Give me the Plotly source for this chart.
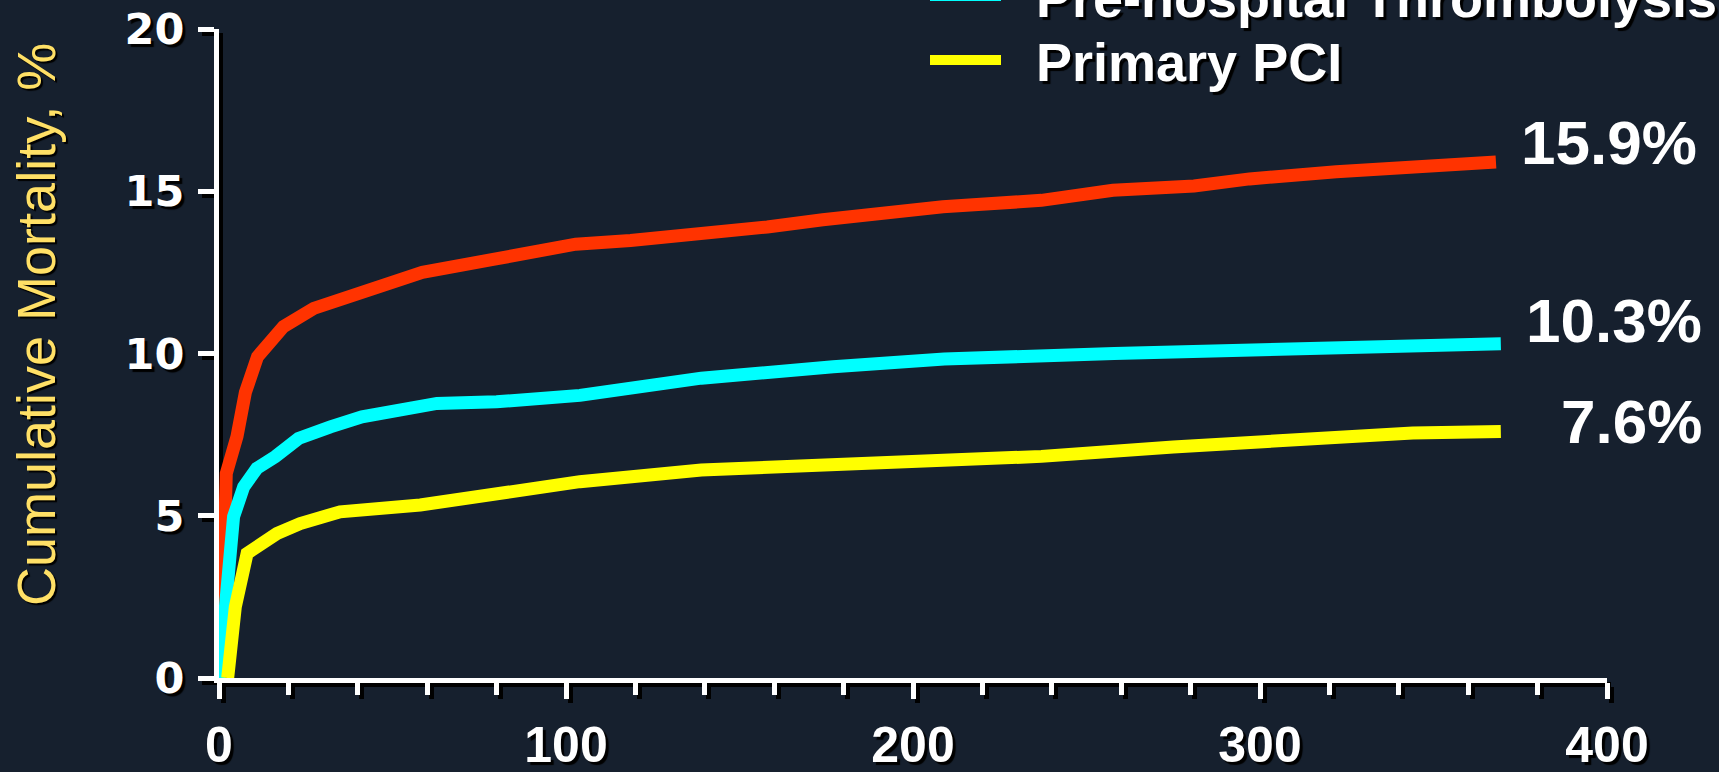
import plotly.graph_objects as go

# Cumulative mortality (%) by days after the index event
red_days = [0.5, 2.1, 5.2, 7.6, 11.1, 18.6, 27.3, 37.8, 48.2, 58.6, 79, 102.8, 118.6, 139, 158, 174,
            208.6, 237, 257.6, 281, 297, 322, 348, 357, 368]
red_mort = [0, 6.3, 7.45, 8.8, 9.9, 10.83, 11.39, 11.75, 12.1, 12.5, 12.9, 13.37, 13.48, 13.65, 13.9, 14.12,
            14.52, 14.72, 15.03, 15.16, 15.38, 15.6, 15.81, 15.81, 15.9]

cyan_days = [0, 4.2, 7.1, 10.9, 16.2, 22.9, 32.1, 41.2, 62.8, 80, 104, 139, 177, 209, 258, 297, 322, 369.4]
cyan_mort = [0, 4.97, 5.89, 6.46, 6.82, 7.38, 7.74, 8.05, 8.46, 8.51, 8.71, 9.24, 9.59, 9.83, 10.0, 10.11,
             10.17, 10.3]

yellow_days = [2.5, 4.7, 8.1, 16.7, 23.4, 34.9, 58, 80, 104, 139, 161, 209, 237, 275, 297, 322, 344, 369.4]
yellow_mort = [0, 2.19, 3.84, 4.45, 4.76, 5.12, 5.33, 5.69, 6.05, 6.41, 6.5, 6.71, 6.83, 7.12, 7.28, 7.43,
               7.55, 7.6]

series_names = ["In-hospital Thrombolysis", "Pre-hospital Thrombolysis", "Primary PCI"]
series_colors = ["#FF3300", "#00FFFF", "#FFFF00"]

x_ticks = [0, 100, 200, 300, 400]
y_ticks = [0, 5, 10, 15, 20]

BG = "#16202E"
W, H = 1719, 772
L, R, T, B = 219, 108, 29, 90
SH = 4  # drop-shadow offset of the axes, px
pw, ph = W - L - R, H - T - B
main_xdom = [0, 1 - SH / pw]
shad_xdom = [SH / pw, 1]
main_ydom = [SH / ph, 1]
shad_ydom = [0, 1 - SH / ph]

ARIAL = "Liberation Sans, Arial, sans-serif"
WIDE = "DejaVu Sans, Verdana, sans-serif"
TXT_SHADOW = "3px 3px 1px #000000"
NBSP = "\u00a0"

fig = go.Figure()

# empty trace so the shadow axes get their own subplot
fig.add_trace(go.Scatter(x=[], y=[], xaxis="x", yaxis="y", showlegend=False, hoverinfo="skip"))

data = [(red_days, red_mort), (cyan_days, cyan_mort), (yellow_days, yellow_mort)]
legends = ["legend3", "legend2", "legend"]
for (d, m), name, col, lg in zip(data, series_names, series_colors, legends):
    fig.add_trace(go.Scatter(
        x=d, y=m, mode="lines", name=NBSP * 2 + name, legend=lg,
        line=dict(color=col, width=13, shape="linear"),
        xaxis="x2", yaxis="y2", cliponaxis=False, hoverinfo="skip",
    ))

# value labels at the end of each curve
label_shifts = [(203, 20), (203, 23), (203, 10)]
for (d, m), (xs, ys) in zip(data, label_shifts):
    fig.add_annotation(
        x=d[-1], y=m[-1], xref="x2", yref="y2", text=f"{m[-1]:.1f}%",
        showarrow=False, xanchor="right", yanchor="middle", xshift=xs, yshift=ys,
        font=dict(family=ARIAL, size=62, color="white", weight="bold"),
    )

# y-axis title
fig.add_annotation(
    x=(36 - L) / pw, y=(H - B - 325) / ph, xref="paper", yref="paper",
    text="Cumulative Mortality, %", textangle=-90, showarrow=False,
    xanchor="center", yanchor="middle",
    font=dict(family=ARIAL, size=54, color="#FFE066", shadow="-2px 2px 1px #000000"),
)

def axis_common(color):
    return dict(
        showline=True, linecolor=color, linewidth=5, showgrid=False, zeroline=False,
        ticks="outside", tickcolor=color, tickwidth=5, ticklen=16, fixedrange=True,
    )

xa = dict(range=[0, 400], tickvals=x_ticks,
          minor=dict(dtick=20, tick0=0, ticks="outside", ticklen=12, tickwidth=5))
ya = dict(range=[0, 20], tickvals=y_ticks)

fig.update_layout(
    width=W, height=H,
    paper_bgcolor=BG, plot_bgcolor="rgba(0,0,0,0)",
    margin=dict(l=L, r=R, t=T, b=B, autoexpand=False),
    xaxis=dict(**xa, **axis_common("#000000"), domain=shad_xdom, anchor="y", showticklabels=False,
               minor_tickcolor="#000000"),
    yaxis=dict(**ya, **axis_common("#000000"), domain=shad_ydom, anchor="x", showticklabels=False),
    xaxis2=dict(**xa, **axis_common("white"), domain=main_xdom, anchor="y2", minor_tickcolor="white",
                ticklabelstandoff=3,
                tickfont=dict(family=ARIAL, size=50, color="white", weight="bold", shadow=TXT_SHADOW)),
    yaxis2=dict(**ya, **axis_common("white"), domain=main_ydom, anchor="x2",
                ticklabelstandoff=5,
                tickfont=dict(family=WIDE, size=43, color="white", weight="bold", shadow=TXT_SHADOW)),
    showlegend=True,
)

leg_font = dict(family=ARIAL, size=54, color="white", weight="bold", shadow=TXT_SHADOW)
leg_x = (925 - L) / pw
for lg, top_px in zip(["legend", "legend2", "legend3"], [18.4, -45.6, -109.6]):
    fig.update_layout({lg: dict(
        xref="paper", yref="paper", x=leg_x, y=1 - (top_px - T) / ph,
        xanchor="left", yanchor="top", bgcolor="rgba(0,0,0,0)", borderwidth=0,
        font=leg_font, itemwidth=71,
    )})

fig.write_html("out.html")
